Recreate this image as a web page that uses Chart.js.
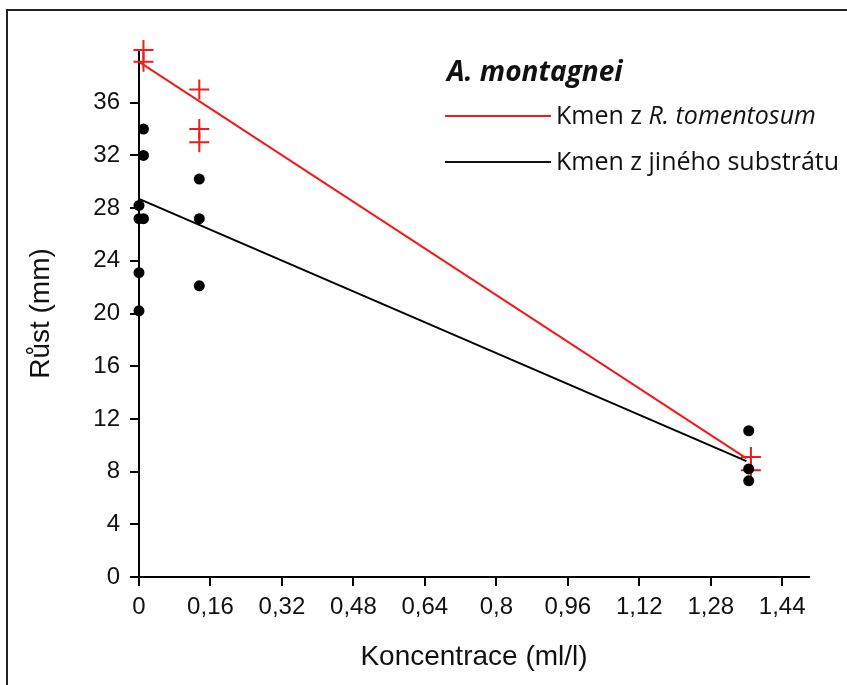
<!DOCTYPE html>
<html lang="cs">
<head>
    <meta charset="UTF-8">
    <title>A. montagnei - růst</title>
    <style>
        body { margin: 0; background: #fff; overflow: hidden; }
        .wrap { position: relative; width: 847px; height: 685px; }
        .frame { position: absolute; left: 6px; top: 9px; width: 900px; height: 700px; border-left: 2px solid #222; border-top: 2px solid #222; }
        canvas { position: absolute; left: 0; top: 0; }
        .legend { position: absolute; font-family: "Open Sans", sans-serif; color: #111; white-space: nowrap; }
        .legend-title { left: 447px; top: 51px; font-size: 28px; font-weight: bold; font-style: italic; line-height: 38px; }
        .legend-item { left: 556px; font-size: 25px; line-height: 34px; }
        .swatch { position: absolute; left: 445px; width: 106px; height: 2px; }
    </style>
</head>
<body>
<div class="wrap">
    <div class="frame"></div>
    <canvas id="chart" width="847" height="685"></canvas>
    <div class="legend legend-title">A. montagnei</div>
    <div class="swatch" style="top:115px;background:#f21a1a"></div>
    <div class="legend legend-item" style="top:97px">Kmen z <i>R. tomentosum</i></div>
    <div class="swatch" style="top:161px;background:#111"></div>
    <div class="legend legend-item" style="top:143px">Kmen z jiného substrátu</div>
</div>

<script src="https://cdn.jsdelivr.net/npm/chart.js"></script>
<script>
    // axis ticks
    const xTicks = [0, 0.16, 0.32, 0.48, 0.64, 0.8, 0.96, 1.12, 1.28, 1.44];
    const xTickLabels = ['0', '0,16', '0,32', '0,48', '0,64', '0,8', '0,96', '1,12', '1,28', '1,44'];
    const yTicks = [0, 4, 8, 12, 16, 20, 24, 28, 32, 36];

    // strain from R. tomentosum (red crosses)
    const redX = [0.01, 0.01, 0.135, 0.135, 0.135, 1.37, 1.37];
    const redY = [40, 39.1, 37, 34, 33, 9.1, 8.1];

    // strain from other substrate (black dots)
    const blackX = [0.01, 0.01, 0, 0, 0.01, 0, 0, 0.135, 0.135, 0.135, 1.365, 1.365, 1.365];
    const blackY = [34, 32, 28.2, 27.2, 27.2, 23.1, 20.2, 30.2, 27.2, 22.1, 11.1, 8.2, 7.3];

    // regression lines (start, end)
    const redFitX = [0, 1.36];
    const redFitY = [39.1, 9.0];
    const blackFitX = [0, 1.36];
    const blackFitY = [28.7, 8.8];

    const RED = '#f21a1a';
    const BLACK = '#000';

    const pts = (xs, ys) => xs.map((x, i) => ({ x: x, y: ys[i] }));

    const axisFont = { family: '"Liberation Sans", Arial, sans-serif', size: 24 };
    const titleFont = { family: '"Liberation Sans", Arial, sans-serif', size: 28 };

    new Chart(document.getElementById('chart'), {
        type: 'scatter',
        data: {
            datasets: [
                {
                    type: 'line', data: pts(redFitX, redFitY), borderColor: RED, borderWidth: 2,
                    pointRadius: 0, fill: false
                },
                {
                    type: 'line', data: pts(blackFitX, blackFitY), borderColor: BLACK, borderWidth: 2,
                    pointRadius: 0, fill: false
                },
                {
                    data: pts(blackX, blackY), pointStyle: 'circle', pointRadius: 5.5,
                    backgroundColor: BLACK, borderColor: BLACK, borderWidth: 0
                },
                {
                    data: pts(redX, redY), pointStyle: 'cross', pointRadius: 10,
                    borderColor: RED, backgroundColor: RED, borderWidth: 2
                }
            ]
        },
        options: {
            responsive: false,
            animation: false,
            clip: false,
            layout: { padding: { left: 0, top: 50, right: 38, bottom: 0 } },
            plugins: { legend: { display: false }, tooltip: { enabled: false } },
            scales: {
                x: {
                    type: 'linear', min: 0, max: 1.5,
                    afterBuildTicks: s => { s.ticks = xTicks.map(v => ({ value: v })); },
                    afterFit: s => { s.height = 108; },
                    ticks: {
                        callback: (v, i) => xTickLabels[i],
                        color: '#111', font: axisFont, padding: 7, maxRotation: 0, autoSkip: false
                    },
                    grid: { drawOnChartArea: false, drawTicks: true, tickLength: 9, color: BLACK, lineWidth: 2 },
                    border: { display: true, color: BLACK, width: 2 },
                    title: { display: true, text: 'Koncentrace (ml/l)', color: '#111', font: titleFont, padding: { bottom: 11 } }
                },
                y: {
                    type: 'linear', min: 0, max: 40,
                    afterBuildTicks: s => { s.ticks = yTicks.map(v => ({ value: v })); },
                    afterFit: s => { s.width = 139; },
                    ticks: { color: '#111', font: axisFont, padding: 10, autoSkip: false },
                    grid: { drawOnChartArea: false, drawTicks: true, tickLength: 9, color: BLACK, lineWidth: 2 },
                    border: { display: true, color: BLACK, width: 2 },
                    title: { display: true, text: 'Růst (mm)', color: '#111', font: titleFont, padding: { top: 24 } }
                }
            }
        }
    });
</script>
</body>
</html>
